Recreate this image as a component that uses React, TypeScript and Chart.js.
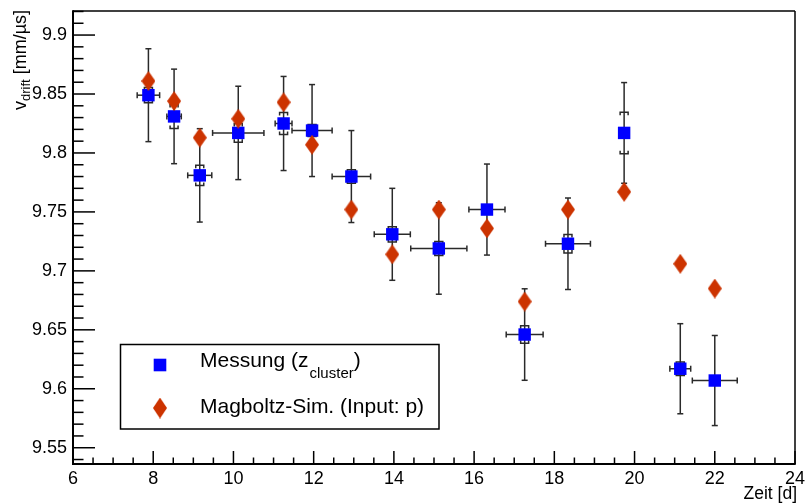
import React, { useEffect, useRef } from 'react';
import { Chart, registerables } from 'chart.js';

Chart.register(...registerables);

// ---- data ----
const timeDays = [7.88, 8.52, 9.16, 10.12, 11.25, 11.96, 12.94, 13.96, 15.12, 16.32, 17.26, 18.34, 19.74, 21.14, 22.0];
const timeErr = [0.28, 0.18, 0.3, 0.64, 0.21, 0.5, 0.48, 0.45, 0.7, 0.45, 0.46, 0.56, 0.1, 0.26, 0.56];
const vMeas = [9.849, 9.831, 9.781, 9.817, 9.825, 9.819, 9.78, 9.731, 9.719, 9.752, 9.646, 9.723, 9.817, 9.617, 9.607];
const vMeasErr = [0.0394, 0.0401, 0.0396, 0.0396, 0.0399, 0.039, 0.039, 0.039, 0.0388, 0.0386, 0.0388, 0.0388, 0.0427, 0.0382, 0.0382];
const vSysErr = [0.0065, 0.0102, 0.0085, 0.0079, 0.0093, 0.0051, 0.0057, 0.0065, 0.0059, 0.004, 0.0074, 0.0078, 0.0176, 0.0057, 0.004];
const vSim = [9.861, 9.844, 9.813, 9.829, 9.843, 9.807, 9.752, 9.714, 9.752, 9.736, 9.674, 9.752, 9.767, 9.706, 9.685];

const xTickValues = [6, 8, 10, 12, 14, 16, 18, 20, 22, 24];
const yTickValues = [9.55, 9.6, 9.65, 9.7, 9.75, 9.8, 9.85, 9.9];
const X_MIN = 6;
const X_MAX = 24;
const Y_MIN = 9.5362;
const Y_MAX = 9.9204;

const measLabelMain = 'Messung (z';
const measLabelSub = 'cluster';
const measLabelEnd = ')';
const simLabel = 'Magboltz-Sim. (Input: p)';
const xTitle = 'Zeit [d]';
const yTitleMain = 'v';
const yTitleSub = 'drift';
const yTitleEnd = ' [mm/\u00b5s]';

const FONT = '"Liberation Sans", Arial, Helvetica, sans-serif';
const BLUE = '#0000ff';
const RED = '#cc3300';

function makeDiamond(w: number, h: number, color: string) {
  const c = document.createElement('canvas');
  c.width = w;
  c.height = h;
  const g = c.getContext('2d')!;
  g.fillStyle = color;
  g.beginPath();
  g.moveTo(w / 2, 0);
  g.lineTo(w, h / 2);
  g.lineTo(w / 2, h);
  g.lineTo(0, h / 2);
  g.closePath();
  g.fill();
  return c;
}

function line(ctx: CanvasRenderingContext2D, x1: number, y1: number, x2: number, y2: number) {
  ctx.beginPath();
  ctx.moveTo(x1, y1);
  ctx.lineTo(x2, y2);
  ctx.stroke();
}

export default function App() {
  const canvasRef = useRef<HTMLCanvasElement | null>(null);

  useEffect(() => {
    const canvas = canvasRef.current;
    if (!canvas) return;
    const diamond = makeDiamond(14, 20, RED);

    const whiteBg = {
      id: 'whiteBg',
      beforeDraw(chart: any) {
        const c = chart.ctx;
        c.save();
        c.fillStyle = '#ffffff';
        c.fillRect(0, 0, chart.width, chart.height);
        c.restore();
      },
    };

    const errorBars = {
      id: 'errorBars',
      beforeDatasetsDraw(chart: any) {
        const { ctx, scales } = chart;
        const xs = scales.x;
        const ys = scales.y;
        const a = chart.chartArea;
        ctx.save();
        ctx.beginPath();
        ctx.rect(a.left, a.top, a.right - a.left, a.bottom - a.top);
        ctx.clip();
        ctx.strokeStyle = '#2a2a2a';
        ctx.lineWidth = 1.5;
        for (let i = 0; i < timeDays.length; i++) {
          const px = xs.getPixelForValue(timeDays[i]);
          const py = ys.getPixelForValue(vMeas[i]);
          const xl = xs.getPixelForValue(timeDays[i] - timeErr[i]);
          const xr = xs.getPixelForValue(timeDays[i] + timeErr[i]);
          line(ctx, xl, py, xr, py);
          line(ctx, xl, py - 3, xl, py + 3);
          line(ctx, xr, py - 3, xr, py + 3);
          const yt = ys.getPixelForValue(vMeas[i] + vMeasErr[i]);
          const yb = ys.getPixelForValue(vMeas[i] - vMeasErr[i]);
          line(ctx, px, yt, px, yb);
          line(ctx, px - 3, yt, px + 3, yt);
          line(ctx, px - 3, yb, px + 3, yb);
          // systematic brackets
          const st = ys.getPixelForValue(vMeas[i] + vSysErr[i]);
          const sb = ys.getPixelForValue(vMeas[i] - vSysErr[i]);
          ctx.beginPath();
          ctx.moveTo(px - 4, st + 3);
          ctx.lineTo(px - 4, st);
          ctx.lineTo(px + 4, st);
          ctx.lineTo(px + 4, st + 3);
          ctx.stroke();
          ctx.beginPath();
          ctx.moveTo(px - 4, sb - 3);
          ctx.lineTo(px - 4, sb);
          ctx.lineTo(px + 4, sb);
          ctx.lineTo(px + 4, sb - 3);
          ctx.stroke();
        }
        ctx.restore();
      },
    };

    const frame = {
      id: 'rootFrame',
      afterDraw(chart: any) {
        const { ctx, scales } = chart;
        const xs = scales.x;
        const ys = scales.y;
        const a = chart.chartArea;
        ctx.save();
        ctx.strokeStyle = '#000000';
        // frame
        ctx.lineWidth = 1.5;
        line(ctx, a.left, a.top, a.right, a.top);
        line(ctx, a.right, a.top, a.right, a.bottom);
        ctx.lineWidth = 2;
        line(ctx, a.left, a.top - 0.75, a.left, a.bottom + 1);
        line(ctx, a.left - 1, a.bottom, a.right + 0.75, a.bottom);
        // ticks (inside)
        ctx.lineWidth = 1.5;
        for (let k = 954; k <= 992; k++) {
          const v = k / 100;
          if (v < Y_MIN || v > Y_MAX) continue;
          const py = ys.getPixelForValue(v);
          const len = k % 5 === 0 ? 22 : 10.5;
          line(ctx, a.left, py, a.left + len, py);
        }
        for (let k = 12; k <= 48; k++) {
          const v = k / 2;
          const px = xs.getPixelForValue(v);
          const len = k % 4 === 0 ? 13 : 6.5;
          line(ctx, px, a.bottom, px, a.bottom - len);
        }
        // axis titles
        ctx.fillStyle = '#000000';
        ctx.font = `17.5px ${FONT}`;
        ctx.textAlign = 'right';
        ctx.textBaseline = 'alphabetic';
        ctx.fillText(xTitle, 797, 498.5);

        ctx.translate(26, 10);
        ctx.rotate(-Math.PI / 2);
        ctx.textAlign = 'left';
        const fMain = `18px ${FONT}`;
        const fSub = `13px ${FONT}`;
        ctx.font = fMain;
        const wv = ctx.measureText(yTitleMain).width;
        const we = ctx.measureText(yTitleEnd).width;
        ctx.font = fSub;
        const wd = ctx.measureText(yTitleSub).width;
        const W = wv + wd + we;
        ctx.font = fMain;
        ctx.fillText(yTitleMain, -W, 0);
        ctx.font = fSub;
        ctx.fillText(yTitleSub, -W + wv, 4);
        ctx.font = fMain;
        ctx.fillText(yTitleEnd, -W + wv + wd, 0);
        ctx.restore();

        // legend
        ctx.save();
        ctx.strokeStyle = '#000000';
        ctx.lineWidth = 1.5;
        ctx.strokeRect(120.5, 344.5, 318.5, 84.5);
        ctx.fillStyle = BLUE;
        ctx.fillRect(160 - 6.3, 365 - 6.3, 12.6, 12.6);
        ctx.drawImage(diamond, 160 - 7, 408 - 10.5, 14, 21);
        ctx.fillStyle = '#000000';
        ctx.textAlign = 'left';
        ctx.textBaseline = 'alphabetic';
        ctx.font = `21px ${FONT}`;
        ctx.fillText(measLabelMain, 200, 367);
        const w1 = ctx.measureText(measLabelMain).width;
        ctx.font = `15px ${FONT}`;
        ctx.fillText(measLabelSub, 200 + w1 + 1, 378);
        const w2 = ctx.measureText(measLabelSub).width;
        ctx.font = `21px ${FONT}`;
        ctx.fillText(measLabelEnd, 200 + w1 + w2 + 1, 367);
        ctx.fillText(simLabel, 200, 413);
        ctx.restore();
      },
    };

    const measPoints = timeDays.map((t, i) => ({ x: t, y: vMeas[i] }));
    const simPoints = timeDays.map((t, i) => ({ x: t, y: vSim[i] }));

    const chart = new Chart(canvas, {
      type: 'scatter',
      data: {
        datasets: [
          {
            label: 'Messung (z_cluster)',
            data: measPoints,
            pointStyle: 'rect',
            pointRadius: 8.8,
            pointHoverRadius: 8.8,
            backgroundColor: BLUE,
            borderColor: BLUE,
            borderWidth: 0,
            order: 1,
          },
          {
            label: simLabel,
            data: simPoints,
            pointStyle: diamond as any,
            pointRadius: 10,
            backgroundColor: RED,
            borderColor: RED,
            borderWidth: 0,
            order: 0,
          },
        ],
      },
      options: {
        responsive: false,
        animation: false,
        devicePixelRatio: 1,
        events: [],
        layout: { padding: { top: 11, right: 6.5, left: 0, bottom: 0 } },
        plugins: {
          legend: { display: false },
          tooltip: { enabled: false },
        },
        scales: {
          x: {
            type: 'linear',
            min: X_MIN,
            max: X_MAX,
            afterBuildTicks: (s: any) => {
              s.ticks = xTickValues.map((v) => ({ value: v }));
            },
            afterFit: (s: any) => {
              s.height = 39;
              s.paddingLeft = 0;
              s.paddingRight = 0;
            },
            grid: { display: false, drawTicks: false },
            border: { display: false },
            ticks: {
              color: '#000000',
              font: { family: FONT, size: 18 },
              padding: 4,
              maxRotation: 0,
              autoSkip: false,
              callback: (v: any) => String(v),
            },
          },
          y: {
            type: 'linear',
            min: Y_MIN,
            max: Y_MAX,
            afterBuildTicks: (s: any) => {
              s.ticks = yTickValues.map((v) => ({ value: v }));
            },
            afterFit: (s: any) => {
              s.width = 73;
              s.paddingTop = 0;
              s.paddingBottom = 0;
            },
            grid: { display: false, drawTicks: false },
            border: { display: false },
            ticks: {
              color: '#000000',
              font: { family: FONT, size: 18 },
              padding: 6,
              autoSkip: false,
              callback: (v: any) => String(Number(Number(v).toFixed(2))),
            },
          },
        },
      },
      plugins: [whiteBg, errorBars, frame],
    } as any);

    return () => {
      chart.destroy();
    };
  }, []);

  return (
    <div style={{ position: 'absolute', left: 0, top: 0, width: 805, height: 503, background: '#fff' }}>
      <canvas ref={canvasRef} width={805} height={503} style={{ width: 805, height: 503, display: 'block' }} />
    </div>
  );
}
